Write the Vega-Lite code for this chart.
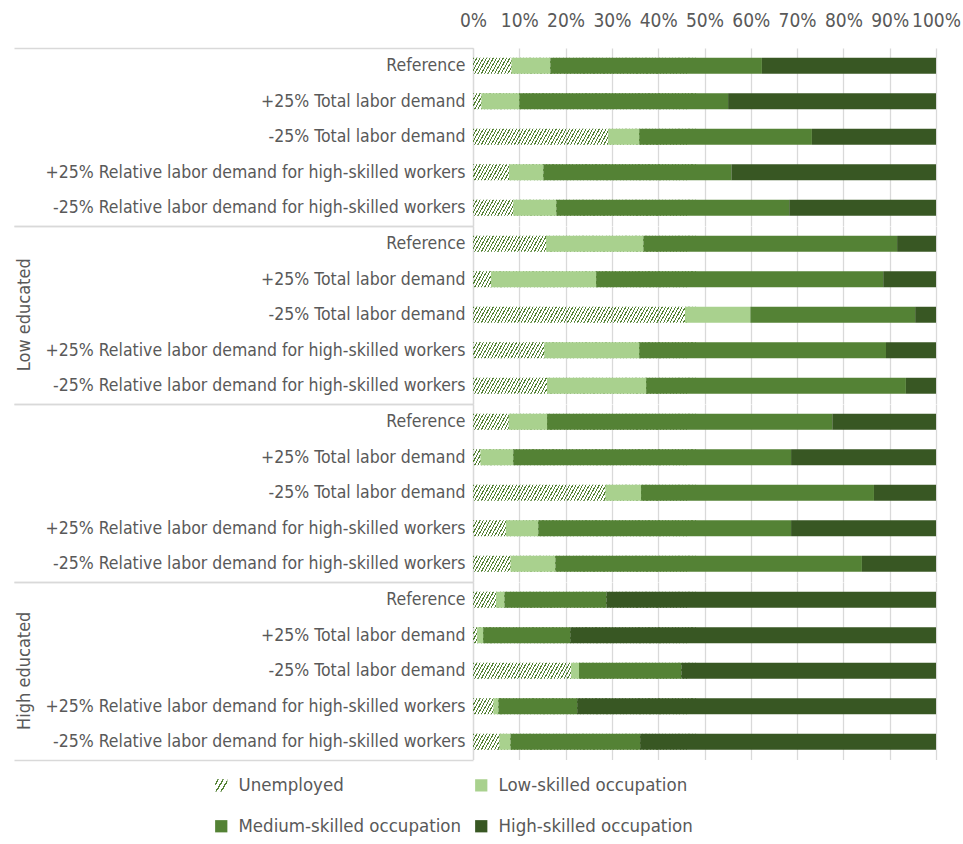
{
  "$schema": "https://vega.github.io/schema/vega-lite/v6.json",
  "padding": {"left": 13, "top": 11, "right": 5, "bottom": 5},
  "background": "white",
  "config": {
    "view": {"stroke": null},
    "font": "Liberation Sans Narrow, Arial Narrow, DejaVu Sans Condensed, sans-serif"
  },
  "datasets": {
    "cats": [
      {"key": "Unemployed", "k": 1},
      {"key": "Low-skilled occupation", "k": 2},
      {"key": "Medium-skilled occupation", "k": 3},
      {"key": "High-skilled occupation", "k": 4}
    ]
  },
  "data": {
    "values": [
      {"g": "All", "s": "Reference", "Unemployed": 8.3, "Low-skilled occupation": 8.4, "Medium-skilled occupation": 45.7, "High-skilled occupation": 37.6},
      {"g": "All", "s": "+25% Total labor demand", "Unemployed": 1.8, "Low-skilled occupation": 8.2, "Medium-skilled occupation": 45.1, "High-skilled occupation": 44.9},
      {"g": "All", "s": "-25% Total labor demand", "Unemployed": 29.2, "Low-skilled occupation": 6.7, "Medium-skilled occupation": 37.3, "High-skilled occupation": 26.8},
      {"g": "All", "s": "+25% Relative labor demand for high-skilled workers", "Unemployed": 7.8, "Low-skilled occupation": 7.4, "Medium-skilled occupation": 40.6, "High-skilled occupation": 44.2},
      {"g": "All", "s": "-25% Relative labor demand for high-skilled workers", "Unemployed": 8.7, "Low-skilled occupation": 9.3, "Medium-skilled occupation": 50.3, "High-skilled occupation": 31.7},
      {"g": "Low educated", "s": "Reference", "Unemployed": 15.8, "Low-skilled occupation": 21.0, "Medium-skilled occupation": 54.8, "High-skilled occupation": 8.4},
      {"g": "Low educated", "s": "+25% Total labor demand", "Unemployed": 3.9, "Low-skilled occupation": 22.7, "Medium-skilled occupation": 62.0, "High-skilled occupation": 11.4},
      {"g": "Low educated", "s": "-25% Total labor demand", "Unemployed": 45.8, "Low-skilled occupation": 14.1, "Medium-skilled occupation": 35.6, "High-skilled occupation": 4.5},
      {"g": "Low educated", "s": "+25% Relative labor demand for high-skilled workers", "Unemployed": 15.4, "Low-skilled occupation": 20.5, "Medium-skilled occupation": 53.3, "High-skilled occupation": 10.8},
      {"g": "Low educated", "s": "-25% Relative labor demand for high-skilled workers", "Unemployed": 16.0, "Low-skilled occupation": 21.4, "Medium-skilled occupation": 56.1, "High-skilled occupation": 6.5},
      {"g": "Medium educated", "s": "Reference", "Unemployed": 7.7, "Low-skilled occupation": 8.3, "Medium-skilled occupation": 61.6, "High-skilled occupation": 22.4},
      {"g": "Medium educated", "s": "+25% Total labor demand", "Unemployed": 1.6, "Low-skilled occupation": 7.1, "Medium-skilled occupation": 60.0, "High-skilled occupation": 31.3},
      {"g": "Medium educated", "s": "-25% Total labor demand", "Unemployed": 28.6, "Low-skilled occupation": 7.7, "Medium-skilled occupation": 50.3, "High-skilled occupation": 13.4},
      {"g": "Medium educated", "s": "+25% Relative labor demand for high-skilled workers", "Unemployed": 7.1, "Low-skilled occupation": 7.0, "Medium-skilled occupation": 54.6, "High-skilled occupation": 31.3},
      {"g": "Medium educated", "s": "-25% Relative labor demand for high-skilled workers", "Unemployed": 8.1, "Low-skilled occupation": 9.7, "Medium-skilled occupation": 66.2, "High-skilled occupation": 16.0},
      {"g": "High educated", "s": "Reference", "Unemployed": 5.0, "Low-skilled occupation": 1.8, "Medium-skilled occupation": 22.0, "High-skilled occupation": 71.2},
      {"g": "High educated", "s": "+25% Total labor demand", "Unemployed": 0.9, "Low-skilled occupation": 1.3, "Medium-skilled occupation": 18.8, "High-skilled occupation": 79.0},
      {"g": "High educated", "s": "-25% Total labor demand", "Unemployed": 21.2, "Low-skilled occupation": 1.7, "Medium-skilled occupation": 22.1, "High-skilled occupation": 55.0},
      {"g": "High educated", "s": "+25% Relative labor demand for high-skilled workers", "Unemployed": 4.4, "Low-skilled occupation": 1.1, "Medium-skilled occupation": 17.0, "High-skilled occupation": 77.5},
      {"g": "High educated", "s": "-25% Relative labor demand for high-skilled workers", "Unemployed": 5.7, "Low-skilled occupation": 2.4, "Medium-skilled occupation": 28.0, "High-skilled occupation": 63.9}
    ]
  },
  "transform": [
    {"fold": ["Unemployed", "Low-skilled occupation", "Medium-skilled occupation", "High-skilled occupation"]},
    {"lookup": "key", "from": {"data": {"name": "cats"}, "key": "key", "fields": ["k"]}}
  ],
  "spacing": 0,
  "facet": {
    "row": {
      "field": "g",
      "type": "nominal",
      "title": null,
      "sort": ["All", "Low educated", "Medium educated", "High educated"],
      "header": {
        "labelAngle": -90,
        "labelOrient": "left",
        "labelAlign": "center",
        "labelFontSize": 18,
        "labelColor": "#595959",
        "labelPadding": -30,
        "labelExpr": "datum.value === 'Low educated' || datum.value === 'High educated' ? datum.value : ''"
      }
    }
  },
  "spec": {
    "width": 463,
    "height": 177.5,
    "layer": [
      {
        "transform": [{"filter": "datum.key === 'Unemployed'"}],
        "mark": {
          "type": "bar",
          "height": {"band": 0.45},
          "stroke": null,
          "fill": {
            "gradient": "linear", "x1": 0, "y1": 0, "x2": 1, "y2": 0.0384,
            "stops": [
              {"offset":0,"color":"#548235"},{"offset":0.005,"color":"#548235"},{"offset":0.005,"color":"#fff0"},{"offset":0.0143,"color":"#fff0"},
              {"offset":0.0143,"color":"#548235"},{"offset":0.0193,"color":"#548235"},{"offset":0.0193,"color":"#fff0"},{"offset":0.0286,"color":"#fff0"},
              {"offset":0.0286,"color":"#548235"},{"offset":0.0336,"color":"#548235"},{"offset":0.0336,"color":"#fff0"},{"offset":0.0429,"color":"#fff0"},
              {"offset":0.0429,"color":"#548235"},{"offset":0.0479,"color":"#548235"},{"offset":0.0479,"color":"#fff0"},{"offset":0.0571,"color":"#fff0"},
              {"offset":0.0571,"color":"#548235"},{"offset":0.0621,"color":"#548235"},{"offset":0.0621,"color":"#fff0"},{"offset":0.0714,"color":"#fff0"},
              {"offset":0.0714,"color":"#548235"},{"offset":0.0764,"color":"#548235"},{"offset":0.0764,"color":"#fff0"},{"offset":0.0857,"color":"#fff0"},
              {"offset":0.0857,"color":"#548235"},{"offset":0.0907,"color":"#548235"},{"offset":0.0907,"color":"#fff0"},{"offset":0.1,"color":"#fff0"},
              {"offset":0.1,"color":"#548235"},{"offset":0.105,"color":"#548235"},{"offset":0.105,"color":"#fff0"},{"offset":0.1143,"color":"#fff0"},
              {"offset":0.1143,"color":"#548235"},{"offset":0.1193,"color":"#548235"},{"offset":0.1193,"color":"#fff0"},{"offset":0.1286,"color":"#fff0"},
              {"offset":0.1286,"color":"#548235"},{"offset":0.1336,"color":"#548235"},{"offset":0.1336,"color":"#fff0"},{"offset":0.1429,"color":"#fff0"},
              {"offset":0.1429,"color":"#548235"},{"offset":0.1479,"color":"#548235"},{"offset":0.1479,"color":"#fff0"},{"offset":0.1571,"color":"#fff0"},
              {"offset":0.1571,"color":"#548235"},{"offset":0.1621,"color":"#548235"},{"offset":0.1621,"color":"#fff0"},{"offset":0.1714,"color":"#fff0"},
              {"offset":0.1714,"color":"#548235"},{"offset":0.1764,"color":"#548235"},{"offset":0.1764,"color":"#fff0"},{"offset":0.1857,"color":"#fff0"},
              {"offset":0.1857,"color":"#548235"},{"offset":0.1907,"color":"#548235"},{"offset":0.1907,"color":"#fff0"},{"offset":0.2,"color":"#fff0"},
              {"offset":0.2,"color":"#548235"},{"offset":0.205,"color":"#548235"},{"offset":0.205,"color":"#fff0"},{"offset":0.2143,"color":"#fff0"},
              {"offset":0.2143,"color":"#548235"},{"offset":0.2193,"color":"#548235"},{"offset":0.2193,"color":"#fff0"},{"offset":0.2286,"color":"#fff0"},
              {"offset":0.2286,"color":"#548235"},{"offset":0.2336,"color":"#548235"},{"offset":0.2336,"color":"#fff0"},{"offset":0.2429,"color":"#fff0"},
              {"offset":0.2429,"color":"#548235"},{"offset":0.2479,"color":"#548235"},{"offset":0.2479,"color":"#fff0"},{"offset":0.2571,"color":"#fff0"},
              {"offset":0.2571,"color":"#548235"},{"offset":0.2621,"color":"#548235"},{"offset":0.2621,"color":"#fff0"},{"offset":0.2714,"color":"#fff0"},
              {"offset":0.2714,"color":"#548235"},{"offset":0.2764,"color":"#548235"},{"offset":0.2764,"color":"#fff0"},{"offset":0.2857,"color":"#fff0"},
              {"offset":0.2857,"color":"#548235"},{"offset":0.2907,"color":"#548235"},{"offset":0.2907,"color":"#fff0"},{"offset":0.3,"color":"#fff0"},
              {"offset":0.3,"color":"#548235"},{"offset":0.305,"color":"#548235"},{"offset":0.305,"color":"#fff0"},{"offset":0.3143,"color":"#fff0"},
              {"offset":0.3143,"color":"#548235"},{"offset":0.3193,"color":"#548235"},{"offset":0.3193,"color":"#fff0"},{"offset":0.3286,"color":"#fff0"},
              {"offset":0.3286,"color":"#548235"},{"offset":0.3336,"color":"#548235"},{"offset":0.3336,"color":"#fff0"},{"offset":0.3429,"color":"#fff0"},
              {"offset":0.3429,"color":"#548235"},{"offset":0.3479,"color":"#548235"},{"offset":0.3479,"color":"#fff0"},{"offset":0.3571,"color":"#fff0"},
              {"offset":0.3571,"color":"#548235"},{"offset":0.3621,"color":"#548235"},{"offset":0.3621,"color":"#fff0"},{"offset":0.3714,"color":"#fff0"},
              {"offset":0.3714,"color":"#548235"},{"offset":0.3764,"color":"#548235"},{"offset":0.3764,"color":"#fff0"},{"offset":0.3857,"color":"#fff0"},
              {"offset":0.3857,"color":"#548235"},{"offset":0.3907,"color":"#548235"},{"offset":0.3907,"color":"#fff0"},{"offset":0.4,"color":"#fff0"},
              {"offset":0.4,"color":"#548235"},{"offset":0.405,"color":"#548235"},{"offset":0.405,"color":"#fff0"},{"offset":0.4143,"color":"#fff0"},
              {"offset":0.4143,"color":"#548235"},{"offset":0.4193,"color":"#548235"},{"offset":0.4193,"color":"#fff0"},{"offset":0.4286,"color":"#fff0"},
              {"offset":0.4286,"color":"#548235"},{"offset":0.4336,"color":"#548235"},{"offset":0.4336,"color":"#fff0"},{"offset":0.4429,"color":"#fff0"},
              {"offset":0.4429,"color":"#548235"},{"offset":0.4479,"color":"#548235"},{"offset":0.4479,"color":"#fff0"},{"offset":0.4571,"color":"#fff0"},
              {"offset":0.4571,"color":"#548235"},{"offset":0.4621,"color":"#548235"},{"offset":0.4621,"color":"#fff0"},{"offset":0.4714,"color":"#fff0"},
              {"offset":0.4714,"color":"#548235"},{"offset":0.4764,"color":"#548235"},{"offset":0.4764,"color":"#fff0"},{"offset":0.4857,"color":"#fff0"},
              {"offset":0.4857,"color":"#548235"},{"offset":0.4907,"color":"#548235"},{"offset":0.4907,"color":"#fff0"},{"offset":0.5,"color":"#fff0"},
              {"offset":0.5,"color":"#548235"},{"offset":0.505,"color":"#548235"},{"offset":0.505,"color":"#fff0"},{"offset":0.5143,"color":"#fff0"},
              {"offset":0.5143,"color":"#548235"},{"offset":0.5193,"color":"#548235"},{"offset":0.5193,"color":"#fff0"},{"offset":0.5286,"color":"#fff0"},
              {"offset":0.5286,"color":"#548235"},{"offset":0.5336,"color":"#548235"},{"offset":0.5336,"color":"#fff0"},{"offset":0.5429,"color":"#fff0"},
              {"offset":0.5429,"color":"#548235"},{"offset":0.5479,"color":"#548235"},{"offset":0.5479,"color":"#fff0"},{"offset":0.5571,"color":"#fff0"},
              {"offset":0.5571,"color":"#548235"},{"offset":0.5621,"color":"#548235"},{"offset":0.5621,"color":"#fff0"},{"offset":0.5714,"color":"#fff0"},
              {"offset":0.5714,"color":"#548235"},{"offset":0.5764,"color":"#548235"},{"offset":0.5764,"color":"#fff0"},{"offset":0.5857,"color":"#fff0"},
              {"offset":0.5857,"color":"#548235"},{"offset":0.5907,"color":"#548235"},{"offset":0.5907,"color":"#fff0"},{"offset":0.6,"color":"#fff0"},
              {"offset":0.6,"color":"#548235"},{"offset":0.605,"color":"#548235"},{"offset":0.605,"color":"#fff0"},{"offset":0.6143,"color":"#fff0"},
              {"offset":0.6143,"color":"#548235"},{"offset":0.6193,"color":"#548235"},{"offset":0.6193,"color":"#fff0"},{"offset":0.6286,"color":"#fff0"},
              {"offset":0.6286,"color":"#548235"},{"offset":0.6336,"color":"#548235"},{"offset":0.6336,"color":"#fff0"},{"offset":0.6429,"color":"#fff0"},
              {"offset":0.6429,"color":"#548235"},{"offset":0.6479,"color":"#548235"},{"offset":0.6479,"color":"#fff0"},{"offset":0.6571,"color":"#fff0"},
              {"offset":0.6571,"color":"#548235"},{"offset":0.6621,"color":"#548235"},{"offset":0.6621,"color":"#fff0"},{"offset":0.6714,"color":"#fff0"},
              {"offset":0.6714,"color":"#548235"},{"offset":0.6764,"color":"#548235"},{"offset":0.6764,"color":"#fff0"},{"offset":0.6857,"color":"#fff0"},
              {"offset":0.6857,"color":"#548235"},{"offset":0.6907,"color":"#548235"},{"offset":0.6907,"color":"#fff0"},{"offset":0.7,"color":"#fff0"},
              {"offset":0.7,"color":"#548235"},{"offset":0.705,"color":"#548235"},{"offset":0.705,"color":"#fff0"},{"offset":0.7143,"color":"#fff0"},
              {"offset":0.7143,"color":"#548235"},{"offset":0.7193,"color":"#548235"},{"offset":0.7193,"color":"#fff0"},{"offset":0.7286,"color":"#fff0"},
              {"offset":0.7286,"color":"#548235"},{"offset":0.7336,"color":"#548235"},{"offset":0.7336,"color":"#fff0"},{"offset":0.7429,"color":"#fff0"},
              {"offset":0.7429,"color":"#548235"},{"offset":0.7479,"color":"#548235"},{"offset":0.7479,"color":"#fff0"},{"offset":0.7571,"color":"#fff0"},
              {"offset":0.7571,"color":"#548235"},{"offset":0.7621,"color":"#548235"},{"offset":0.7621,"color":"#fff0"},{"offset":0.7714,"color":"#fff0"},
              {"offset":0.7714,"color":"#548235"},{"offset":0.7764,"color":"#548235"},{"offset":0.7764,"color":"#fff0"},{"offset":0.7857,"color":"#fff0"},
              {"offset":0.7857,"color":"#548235"},{"offset":0.7907,"color":"#548235"},{"offset":0.7907,"color":"#fff0"},{"offset":0.8,"color":"#fff0"},
              {"offset":0.8,"color":"#548235"},{"offset":0.805,"color":"#548235"},{"offset":0.805,"color":"#fff0"},{"offset":0.8143,"color":"#fff0"},
              {"offset":0.8143,"color":"#548235"},{"offset":0.8193,"color":"#548235"},{"offset":0.8193,"color":"#fff0"},{"offset":0.8286,"color":"#fff0"},
              {"offset":0.8286,"color":"#548235"},{"offset":0.8336,"color":"#548235"},{"offset":0.8336,"color":"#fff0"},{"offset":0.8429,"color":"#fff0"},
              {"offset":0.8429,"color":"#548235"},{"offset":0.8479,"color":"#548235"},{"offset":0.8479,"color":"#fff0"},{"offset":0.8571,"color":"#fff0"},
              {"offset":0.8571,"color":"#548235"},{"offset":0.8621,"color":"#548235"},{"offset":0.8621,"color":"#fff0"},{"offset":0.8714,"color":"#fff0"},
              {"offset":0.8714,"color":"#548235"},{"offset":0.8764,"color":"#548235"},{"offset":0.8764,"color":"#fff0"},{"offset":0.8857,"color":"#fff0"},
              {"offset":0.8857,"color":"#548235"},{"offset":0.8907,"color":"#548235"},{"offset":0.8907,"color":"#fff0"},{"offset":0.9,"color":"#fff0"},
              {"offset":0.9,"color":"#548235"},{"offset":0.905,"color":"#548235"},{"offset":0.905,"color":"#fff0"},{"offset":0.9143,"color":"#fff0"},
              {"offset":0.9143,"color":"#548235"},{"offset":0.9193,"color":"#548235"},{"offset":0.9193,"color":"#fff0"},{"offset":0.9286,"color":"#fff0"},
              {"offset":0.9286,"color":"#548235"},{"offset":0.9336,"color":"#548235"},{"offset":0.9336,"color":"#fff0"},{"offset":0.9429,"color":"#fff0"},
              {"offset":0.9429,"color":"#548235"},{"offset":0.9479,"color":"#548235"},{"offset":0.9479,"color":"#fff0"},{"offset":0.9571,"color":"#fff0"},
              {"offset":0.9571,"color":"#548235"},{"offset":0.9621,"color":"#548235"},{"offset":0.9621,"color":"#fff0"},{"offset":1,"color":"#fff0"}
            ]
          }
        },
        "encoding": {
          "y": {
            "field": "s", "type": "nominal",
            "sort": ["Reference", "+25% Total labor demand", "-25% Total labor demand", "+25% Relative labor demand for high-skilled workers", "-25% Relative labor demand for high-skilled workers"],
            "scale": {"paddingInner": 0, "paddingOuter": 0},
            "axis": {
              "title": null, "labelFontSize": 17.5, "labelColor": "#595959", "labelLimit": 0,
              "labelPadding": -451, "tickSize": 459, "tickBand": "extent",
              "tickColor": "#d9d9d9", "tickWidth": 1.3,
              "tickOpacity": {"condition": {"test": "datum.extra || datum.value === '-25% Relative labor demand for high-skilled workers'", "value": 1}, "value": 0},
              "domainColor": "#d9d9d9", "domainWidth": 1.3
            }
          },
          "x": {
            "datum": 0, "type": "quantitative",
            "scale": {"domain": [0, 1], "nice": false},
            "axis": {
              "orient": "top", "title": null, "values": [0, 0.1, 0.2, 0.3, 0.4, 0.5, 0.6, 0.7, 0.8, 0.9, 1],
              "format": ".0%", "grid": true, "gridColor": "#d9d9d9", "gridWidth": 1.3,
              "domain": false, "ticks": false, "labelPadding": 18, "labelFontSize": 19,
              "labelColor": "#595959", "labelFlush": false, "labelOverlap": false
            }
          },
          "x2": {"datum": 0.5}
        }
      },
      {
        "mark": {"type": "bar", "height": {"band": 0.45}},
        "encoding": {
          "y": {
            "field": "s", "type": "nominal",
            "sort": ["Reference", "+25% Total labor demand", "-25% Total labor demand", "+25% Relative labor demand for high-skilled workers", "-25% Relative labor demand for high-skilled workers"],
            "scale": {"paddingInner": 0, "paddingOuter": 0},
            "axis": {
              "title": null, "labelFontSize": 17.5, "labelColor": "#595959", "labelLimit": 0,
              "labelPadding": -451, "tickSize": 459, "tickBand": "extent",
              "tickColor": "#d9d9d9", "tickWidth": 1.3,
              "tickOpacity": {"condition": {"test": "datum.extra || datum.value === '-25% Relative labor demand for high-skilled workers'", "value": 1}, "value": 0},
              "domainColor": "#d9d9d9", "domainWidth": 1.3
            }
          },
          "x": {
            "field": "value", "type": "quantitative", "stack": "normalize",
            "scale": {"domain": [0, 1], "nice": false},
            "axis": {
              "orient": "top", "title": null, "values": [0, 0.1, 0.2, 0.3, 0.4, 0.5, 0.6, 0.7, 0.8, 0.9, 1],
              "format": ".0%", "grid": true, "gridColor": "#d9d9d9", "gridWidth": 1.3,
              "domain": false, "ticks": false, "labelPadding": 18, "labelFontSize": 19,
              "labelColor": "#595959", "labelFlush": false, "labelOverlap": false
            }
          },
          "order": {"field": "k", "type": "quantitative"},
          "color": {
            "field": "key", "type": "nominal",
            "sort": ["Unemployed", "Medium-skilled occupation", "Low-skilled occupation", "High-skilled occupation"],
            "scale": {
              "domain": ["Unemployed", "Medium-skilled occupation", "Low-skilled occupation", "High-skilled occupation"],
              "range": [
                {"expr": "{gradient: 'linear', x1: 0, y1: 0, x2: 1, y2: 0.6, stops: [{offset: 0, color: '#fff0'}, {offset: 0.14, color: '#fff0'}, {offset: 0.14, color: '#548235'}, {offset: 0.24, color: '#548235'}, {offset: 0.24, color: '#fff0'}, {offset: 0.44, color: '#fff0'}, {offset: 0.44, color: '#548235'}, {offset: 0.54, color: '#548235'}, {offset: 0.54, color: '#fff0'}, {offset: 0.74, color: '#fff0'}, {offset: 0.74, color: '#548235'}, {offset: 0.84, color: '#548235'}, {offset: 0.84, color: '#fff0'}, {offset: 1, color: '#fff0'}]}"},
                "#548235", "#a9d18e", "#385723"
              ]
            },
            "legend": {
              "orient": "none", "legendX": -261, "legendY": 728,
              "title": null, "columns": 2, "labelFontSize": 18.5, "labelColor": "#595959",
              "labelLimit": 0, "labelOffset": 8, "symbolType": "square", "symbolSize": 150, "symbolStrokeWidth": 0,
              "symbolOpacity": 1,
              "columnPadding": 10, "rowPadding": 22
            }
          },
          "fillOpacity": {"condition": {"test": "datum.key === 'Unemployed'", "value": 0}, "value": 1}
        }
      }
    ]
  }
}
